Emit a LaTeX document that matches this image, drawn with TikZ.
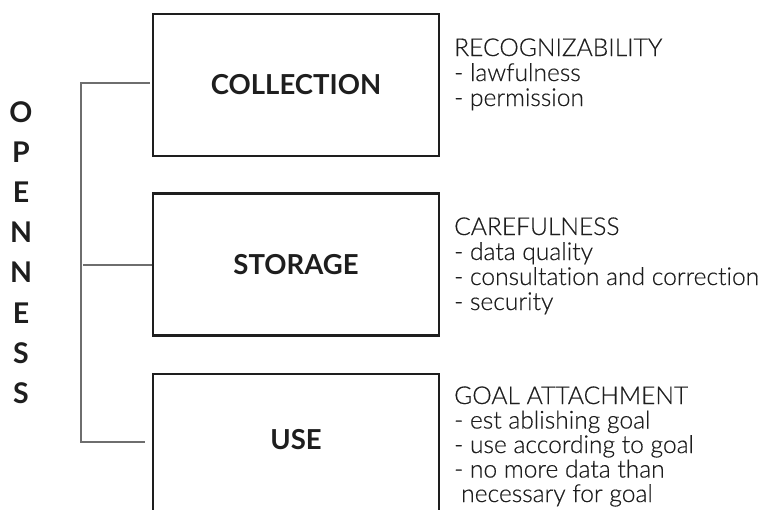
\documentclass[tikz,border=0pt]{standalone}
\usepackage{fontspec}
\setmainfont{Lato}[Ligatures={NoCommon,NoRequired,NoContextual}]
\newfontfamily\notefont{Lato Light}[Ligatures={NoCommon,NoRequired,NoContextual},FakeBold=0.4]
\definecolor{ink}{HTML}{1E1E1E}
\definecolor{spine}{HTML}{6E6E6E}
\begin{document}
\begin{tikzpicture}[x=1pt,y=-1pt,
  stagebox/.style={draw=ink,line width=2.6pt,minimum width=286pt,minimum height=142pt,
    inner sep=0pt,text=ink,font=\fontsize{27.5}{30}\selectfont\bfseries},
  letter/.style={anchor=base,inner sep=0pt,text=ink,font=\fontsize{28.5}{30}\selectfont\bfseries},
  note/.style={anchor=base west,inner sep=0pt,text=ink,font=\notefont\fontsize{24.6}{25}\selectfont},
  link/.style={draw=spine,line width=1.4pt}]
\clip (0,0) rectangle (767,509);
\useasboundingbox (0,0) rectangle (767,509);

% the three stages
\node[stagebox] (coll) at (296,85) {COLLECTION};
\node[stagebox] (stor) at (296,264.5) {STORAGE};
\node[stagebox] (use) at (296,445) {};
\node[text=ink,font=\fontsize{27.5}{30}\selectfont\bfseries,inner sep=0pt] (uselbl) at (296,440) {USE};

% vertical label
\foreach \c [count=\i] in {O,P,E,N,N,E,S,S}
  \node[letter] (o\i) at (21,{122+40.2*(\i-1)}) {\c};

% bracket joining the stages
\coordinate (s1) at (81,83);
\coordinate (s2) at (81,265);
\coordinate (s3) at (81,442);
\draw[link,line cap=rect] (s1) -- (s3);
\draw[link,shorten >=2pt] (s1) -- (s1 -| coll.west);
\draw[link,shorten <=2pt] (s2) -- (s2 -| stor.west);
\draw[link,shorten >=7pt] (s3) -- (s3 -| use.west);

% principles per stage
\node[note] (r1a) at (454,56) {RECOGNIZABILITY};
\node[note] (r1b) at (454,81) {- lawfulness};
\node[note] (r1c) at (454,106) {- permission};

\node[note] (r2a) at (454,235) {CAREFULNESS};
\node[note] (r2b) at (454,260) {- data quality};
\node[note] (r2c) at (454,285) {- consultation and correction};
\node[note] (r2d) at (454,310) {- security};

\node[note] (r3a) at (454,404) {GOAL ATTACHMENT};
\node[note] (r3b) at (454,428.5) {- est ablishing goal};
\node[note] (r3c) at (454,453) {- use according to goal};
\node[note] (r3d) at (454,477.5) {- no more data than};
\node[note] (r3e) at (461,502) {necessary for goal};
\end{tikzpicture}
\end{document}
